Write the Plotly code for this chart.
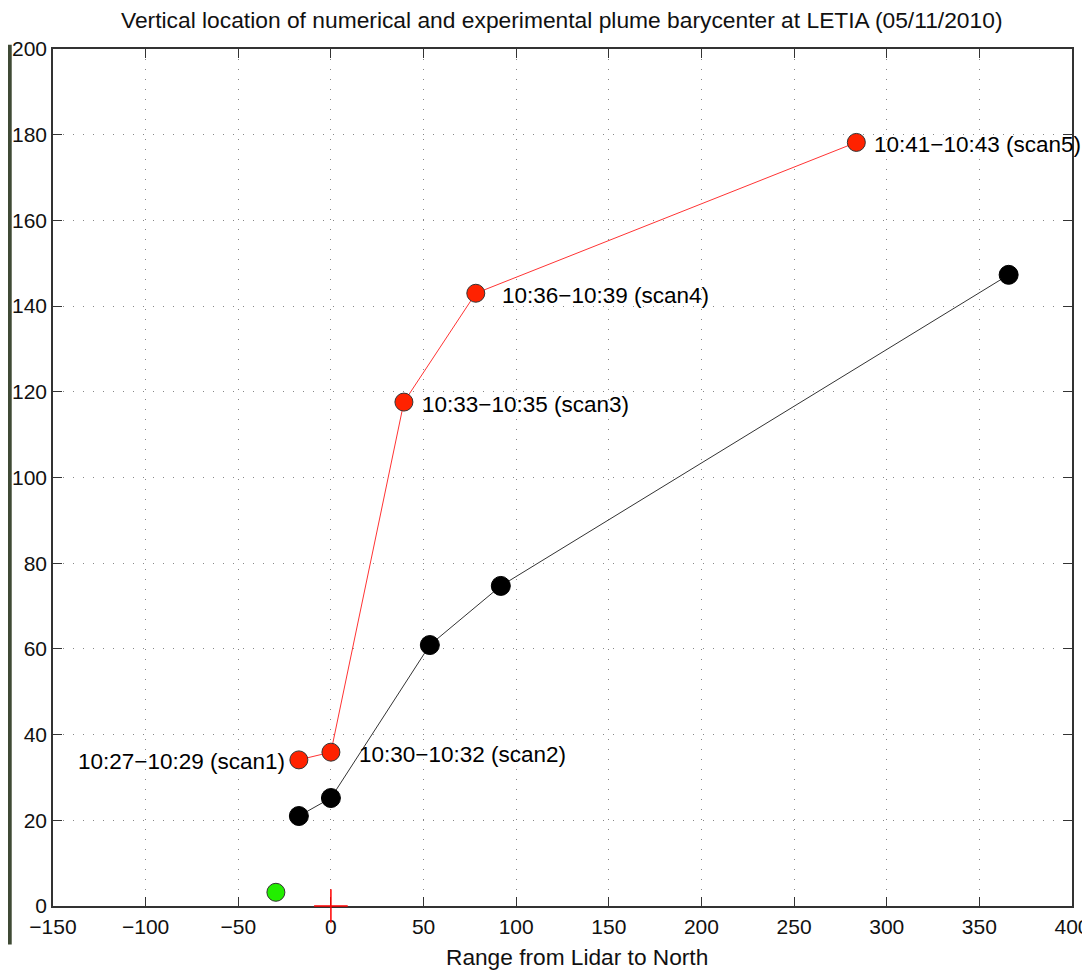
import plotly.graph_objects as go

# experimental barycenter (red) and numerical barycenter (black)
exp_x = [-17.3, 0, 39.4, 78.2, 283.6]
exp_y = [34.1, 35.9, 117.6, 143.0, 178.2]
scan_labels = ["10:27\u221210:29 (scan1)", "10:30\u221210:32 (scan2)",
               "10:33\u221210:35 (scan3)", "10:36\u221210:39 (scan4)",
               "10:41\u221210:43 (scan5)"]

num_x = [-17.3, 0, 53.4, 91.7, 365.8]
num_y = [21.0, 25.2, 60.9, 74.7, 147.3]

src_x = [-29.7]
src_y = [3.2]
lidar_x = [0]
lidar_y = [0]

xticks = [-150, -100, -50, 0, 50, 100, 150, 200, 250, 300, 350, 400]
yticks = [0, 20, 40, 60, 80, 100, 120, 140, 160, 180, 200]

FONT = "Liberation Sans, Arial, Helvetica"

fig = go.Figure()

fig.add_trace(go.Scatter(
    x=num_x, y=num_y, mode="lines+markers",
    line=dict(color="#333333", width=1),
    marker=dict(color="black", size=19, line=dict(color="black", width=1)),
    cliponaxis=False, showlegend=False))

fig.add_trace(go.Scatter(
    x=exp_x, y=exp_y, mode="lines+markers",
    line=dict(color="#ff3333", width=1),
    marker=dict(color="#ff2200", size=18, line=dict(color="#333333", width=1)),
    cliponaxis=False, showlegend=False))

fig.add_trace(go.Scatter(
    x=src_x, y=src_y, mode="markers",
    marker=dict(color="#22ee00", size=18, line=dict(color="#333333", width=1)),
    cliponaxis=False, showlegend=False))

fig.add_trace(go.Scatter(
    x=lidar_x, y=lidar_y, mode="markers",
    marker=dict(symbol="cross-thin", color="red", size=24, line=dict(color="red", width=1.5)),
    cliponaxis=False, showlegend=False))

# scan labels beside the red markers
shifts = [-12, 26, 16, 24, 16]
for xv, yv, txt, sh in zip(exp_x, exp_y, scan_labels, shifts):
    fig.add_annotation(x=xv, y=yv, xref="x", yref="y", text=txt, showarrow=False,
                       xanchor="right" if sh < 0 else "left", yanchor="middle",
                       xshift=sh, yshift=-2,
                       font=dict(size=22.5, color="black", family=FONT))

axis_common = dict(
    showline=True, linecolor="#333333", linewidth=1.5, mirror="ticks",
    ticks="inside", ticklen=9, tickcolor="#333333", tickwidth=1,
    showgrid=True, gridcolor="#888888", griddash="1px,9px", gridwidth=1,
    zeroline=False, automargin=False, layer="below traces",
    tickfont=dict(size=21, color="#111111", family=FONT),
)

fig.update_xaxes(range=[-150, 400], tickvals=xticks, ticklabelstandoff=1, **axis_common)
fig.update_yaxes(range=[0, 200], tickvals=yticks, ticklabelstandoff=0, **axis_common)

# x axis title (a bit right of the plot centre, as in the original)
fig.add_annotation(x=0.514, y=-0.0595, xref="paper", yref="paper",
                   text="Range from Lidar to North", showarrow=False,
                   xanchor="center", yanchor="middle",
                   font=dict(size=22.7, color="#111111", family=FONT))

# dark strip along the left edge of the picture
fig.add_shape(type="rect", xref="paper", yref="paper",
              x0=-0.0442, x1=-0.0405, y0=-0.045, y1=1.005,
              fillcolor="#3f4a35", line=dict(width=0), layer="above")

fig.update_layout(
    width=1090, height=971,
    margin=dict(l=45, r=26, t=41, b=73),
    plot_bgcolor="white", paper_bgcolor="white",
    title=dict(text="Vertical location of numerical and experimental plume barycenter at LETIA (05/11/2010)",
               x=0.508, xanchor="center", y=0.9876, yanchor="middle", automargin=False,
               font=dict(size=22.8, color="#111111", family=FONT)),
)

fig.write_html("out.html")
